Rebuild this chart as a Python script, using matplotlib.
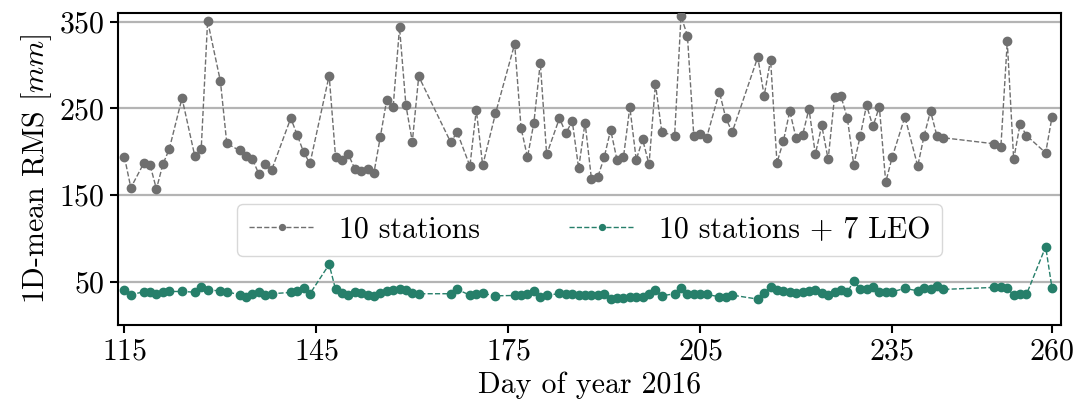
import matplotlib
matplotlib.use("Agg")
import matplotlib.pyplot as plt

plt.rcParams["font.family"] = "serif"
plt.rcParams["font.serif"] = ["cmr10", "DejaVu Serif"]
plt.rcParams["mathtext.fontset"] = "cm"
plt.rcParams["axes.unicode_minus"] = False
plt.rcParams["axes.formatter.use_mathtext"] = True

days = [115, 116, 118, 119, 120, 121, 122, 124, 126, 127,
        128, 130, 131, 133, 134, 135, 136, 137, 138, 141,
        142, 143, 144, 147, 148, 149, 150, 151, 152, 153,
        154, 155, 156, 157, 158, 159, 160, 161, 166, 167,
        169, 170, 171, 173, 176, 177, 178, 179, 180, 181,
        183, 184, 185, 186, 187, 188, 189, 190, 191, 192,
        193, 194, 195, 196, 197, 198, 199, 201, 202, 203,
        204, 205, 206, 208, 209, 210, 214, 215, 216, 217,
        218, 219, 220, 221, 222, 223, 224, 225, 226, 227,
        228, 229, 230, 231, 232, 233, 234, 235, 237, 239,
        240, 241, 242, 243, 251, 252, 253, 254, 255, 256,
        259, 260]

rms_stations = [194, 158.5, 186.5, 185, 157, 185.4, 203, 262, 195, 203.5,
                351, 281.5, 209.6, 201.5, 195, 191.5, 174.6, 185.4, 178.8, 238.8,
                219.6, 199.6, 186.5, 288, 194, 190, 197, 180.5, 177.7, 179.6,
                175.8, 217.3, 260, 251.5, 343.5, 253.5, 211.5, 287, 211, 222.7,
                183.5, 248.5, 184.2, 244.2, 324.6, 227.3, 193.8, 233.5, 302.7, 196.9,
                238.8, 221.5, 235.4, 180.8, 233.8, 168.5, 171, 193.8, 225.4, 190.4,
                193.5, 251.5, 190.8, 214.2, 185.4, 278.5, 222.7, 218.5, 356.5, 334.2,
                218, 220.4, 216.2, 269.2, 238.8, 222.7, 309.2, 264.6, 306.5, 187.3,
                212.3, 246.9, 215.4, 219.2, 249.6, 197.3, 230.4, 191.2, 263.5, 264.2,
                238.8, 185, 217.7, 253.8, 229.2, 252, 165, 193.5, 240.4, 183.5,
                218.5, 246.9, 218.5, 216.2, 209.2, 205.8, 327.3, 191.2, 231.9, 218.8,
                198.8, 240.4]

rms_leo = [40.8, 35, 38.5, 38.5, 35.8, 38.5, 38.8, 38.8, 38, 44.2,
           40.4, 39.6, 38.5, 35, 33, 35.8, 37.7, 34.2, 36.2, 37.7,
           39.2, 42.3, 36.2, 70, 41.2, 37.3, 34.6, 38.5, 37.3, 34.6,
           33.8, 37.3, 39.6, 40.8, 41.5, 40.4, 37.3, 36.2, 36.2, 41.2,
           34.6, 35.4, 36.5, 33.8, 34.2, 34.6, 35.8, 39.2, 31.9, 34.2,
           36.5, 35.8, 35.4, 35, 35, 34.6, 34.6, 36, 30.4, 30.8,
           31.2, 31.9, 32.7, 32.7, 35.8, 40.8, 33.8, 36.2, 42.7, 36.2,
           36.2, 35.4, 35.4, 32.7, 32.7, 34.6, 30, 36.5, 44.2, 40,
           39.2, 38.1, 37.3, 38.5, 39.2, 40.8, 37.3, 34.2, 37.7, 40.6,
           37.7, 51.2, 41.5, 41.5, 43.5, 38.5, 38.5, 38.5, 42.3, 39.6,
           42.3, 41.5, 45.4, 41.2, 43.5, 43.5, 42.3, 34.6, 35.4, 35.4,
           90.4, 42.3]

x_ticks = [115, 145, 175, 205, 235, 260]
y_ticks = [50, 150, 250, 350]

fig = plt.figure(figsize=(10.83, 4.11), dpi=100)
ax = fig.add_axes([0.109, 0.209, 0.8707, 0.759])

ax.plot(days, rms_stations, "--o", color="#6f6f6f", lw=1.0, ms=6,
        label="10 stations", zorder=3)
ax.plot(days, rms_leo, "--o", color="#267f6a", lw=1.0, ms=6,
        label="10 stations + 7 LEO", zorder=3)

ax.set_xlim(114, 261.4)
ax.set_ylim(0, 360)
ax.set_xticks(x_ticks)
ax.set_yticks(y_ticks)
ax.yaxis.grid(True, color="#b4b4b4", lw=1.6)
ax.set_axisbelow(True)
for s in ax.spines.values():
    s.set_linewidth(1.5)
ax.tick_params(labelsize=21.5, width=1.5, length=6)

ax.set_xlabel("Day of year 2016", fontsize=21.5)
ax.set_ylabel("1D-mean RMS [$mm$]", fontsize=21.5)

ax.legend(loc="center", bbox_to_anchor=(0.5, 0.305), ncol=2, fontsize=21.5,
          handlelength=2.2, columnspacing=3.0, framealpha=1,
          edgecolor="#d8d8d8", markerscale=0.7)

fig.savefig("out.png", dpi=100)
